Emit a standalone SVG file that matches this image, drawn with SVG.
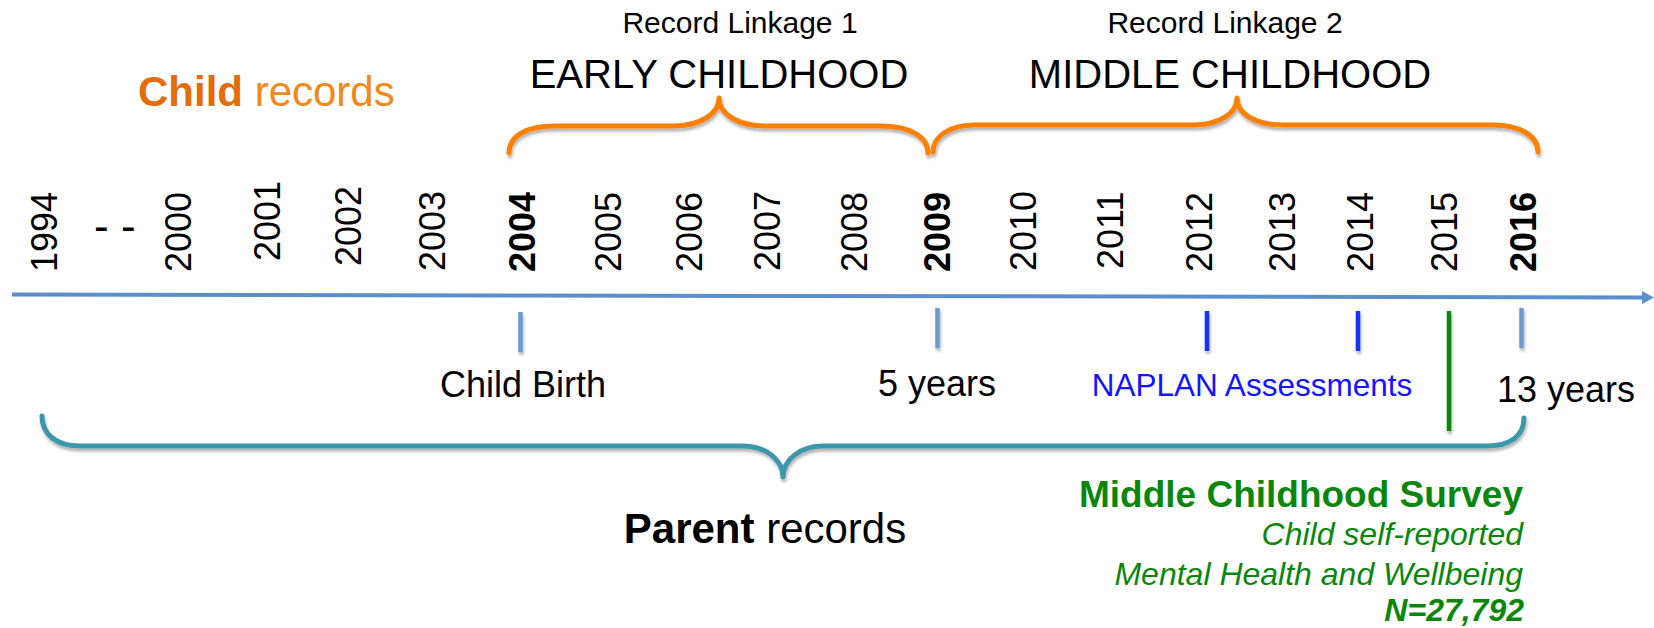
<svg xmlns="http://www.w3.org/2000/svg" width="1654" height="628" viewBox="0 0 1654 628">
<defs>
<style>
text{font-family:"Liberation Sans",Arial,sans-serif;}
.yr{font-size:36px;fill:#000;}
.yb{font-size:36px;font-weight:bold;fill:#000;}
.lbl{font-size:36px;fill:#000;}
.ob{fill:none;stroke:#FF8000;stroke-width:5;stroke-linecap:round;stroke-linejoin:round;}
.tb{fill:none;stroke:#3D97AA;stroke-width:5;stroke-linecap:round;stroke-linejoin:round;}
.tick{stroke:#6C9BD2;stroke-width:4.5;}
.nap{stroke:#1230FF;stroke-width:4.5;}
.grn{fill:#0A870A;}
</style>
<filter id="sh" x="-5%" y="-20%" width="110%" height="160%">
<feDropShadow dx="1" dy="3" stdDeviation="1.5" flood-color="#000" flood-opacity="0.3"/>
</filter>
<marker id="arr" markerUnits="userSpaceOnUse" markerWidth="13" markerHeight="14" refX="0" refY="7" orient="auto" viewBox="0 0 13 14">
<path d="M0,0.5 L12,7 L0,13.5 z" fill="#5B8FCB"/>
</marker>
</defs>
<rect width="1654" height="628" fill="#fff"/>

<g id="child-records">
<text x="138" y="106" font-size="42"><tspan font-weight="bold" fill="#E46C0A">Child</tspan><tspan fill="#F0891A"> records</tspan></text>
</g>

<g id="linkage1">
<text x="740" y="33" font-size="30" text-anchor="middle">Record Linkage 1</text>
<text x="719" y="88" font-size="40" text-anchor="middle">EARLY CHILDHOOD</text>
</g>
<g id="linkage2">
<text x="1225" y="33" font-size="30" text-anchor="middle">Record Linkage 2</text>
<text x="1230" y="88" font-size="40" text-anchor="middle">MIDDLE CHILDHOOD</text>
</g>

<g id="braces-top" filter="url(#sh)">
<path class="ob" d="M509,153 C509,136 526,126 555,126 L673,126 C700,126 719,114 719,98 C719,114 738,126 765,126 L880,126 C909,126 928,136 928,153"/>
<path class="ob" d="M933,152 C933,136 950,125 975,125 L1193,125 C1218,125 1237,114 1237,98 C1237,114 1256,125 1283,125 L1493,125 C1520,125 1538,136 1538,152"/>
</g>

<g id="years">
<text class="yr" transform="translate(57,272) rotate(-90)">1994</text>
<text x="94" y="241" font-size="44">- -</text>
<text class="yr" transform="translate(191,272) rotate(-90)">2000</text>
<text class="yr" transform="translate(280,261) rotate(-90)">2001</text>
<text class="yr" transform="translate(361,266) rotate(-90)">2002</text>
<text class="yr" transform="translate(445,271) rotate(-90)">2003</text>
<text class="yb" transform="translate(535,272) rotate(-90)">2004</text>
<text class="yr" transform="translate(621,272) rotate(-90)">2005</text>
<text class="yr" transform="translate(702,272) rotate(-90)">2006</text>
<text class="yr" transform="translate(780,271) rotate(-90)">2007</text>
<text class="yr" transform="translate(867,272) rotate(-90)">2008</text>
<text class="yb" transform="translate(950,272) rotate(-90)">2009</text>
<text class="yr" transform="translate(1036,271) rotate(-90)">2010</text>
<text class="yr" transform="translate(1123,269) rotate(-90)">2011</text>
<text class="yr" transform="translate(1212,272) rotate(-90)">2012</text>
<text class="yr" transform="translate(1295,272) rotate(-90)">2013</text>
<text class="yr" transform="translate(1373,272) rotate(-90)">2014</text>
<text class="yr" transform="translate(1457,272) rotate(-90)">2015</text>
<text class="yb" transform="translate(1536,272) rotate(-90)">2016</text>
</g>

<g id="connectors">
<line x1="12" y1="294.5" x2="1642" y2="297.5" stroke="#5B8FCB" stroke-width="4" marker-end="url(#arr)"/>
<g filter="url(#sh)">
<line class="tick" x1="520.5" y1="312" x2="520.5" y2="352"/>
<line class="tick" x1="937.5" y1="308" x2="937.5" y2="348"/>
<line class="nap" x1="1207" y1="311" x2="1207" y2="351"/>
<line class="nap" x1="1358" y1="311" x2="1358" y2="351"/>
<line x1="1449" y1="311" x2="1449" y2="431" stroke="#0A870A" stroke-width="4.5"/>
<line class="tick" x1="1521.5" y1="308" x2="1521.5" y2="348"/>
</g>
</g>

<g id="events">
<text class="lbl" x="523" y="397" text-anchor="middle">Child Birth</text>
<text class="lbl" x="937" y="396" text-anchor="middle">5 years</text>
<text x="1252" y="396" font-size="31.5" text-anchor="middle" fill="#1414FF">NAPLAN Assessments</text>
<text class="lbl" x="1497" y="402">13 years</text>
</g>

<g id="parent-records">
<path class="tb" filter="url(#sh)" d="M42,416 C42,434 56,446 80,446 L743,446 C766,446 783,460 783,477 C783,460 800,446 823,446 L1487,446 C1510,446 1524,436 1524,418"/>
<text x="765" y="543" font-size="42" text-anchor="middle"><tspan font-weight="bold">Parent</tspan> records</text>
</g>

<g id="survey" class="grn">
<text x="1523" y="507" font-size="37" font-weight="bold" text-anchor="end">Middle Childhood Survey</text>
<text x="1523" y="545" font-size="32" font-style="italic" text-anchor="end">Child self-reported</text>
<text x="1523" y="585" font-size="32" font-style="italic" text-anchor="end">Mental Health and Wellbeing</text>
<text x="1524" y="621" font-size="32" font-style="italic" font-weight="bold" text-anchor="end">N=27,792</text>
</g>
</svg>
